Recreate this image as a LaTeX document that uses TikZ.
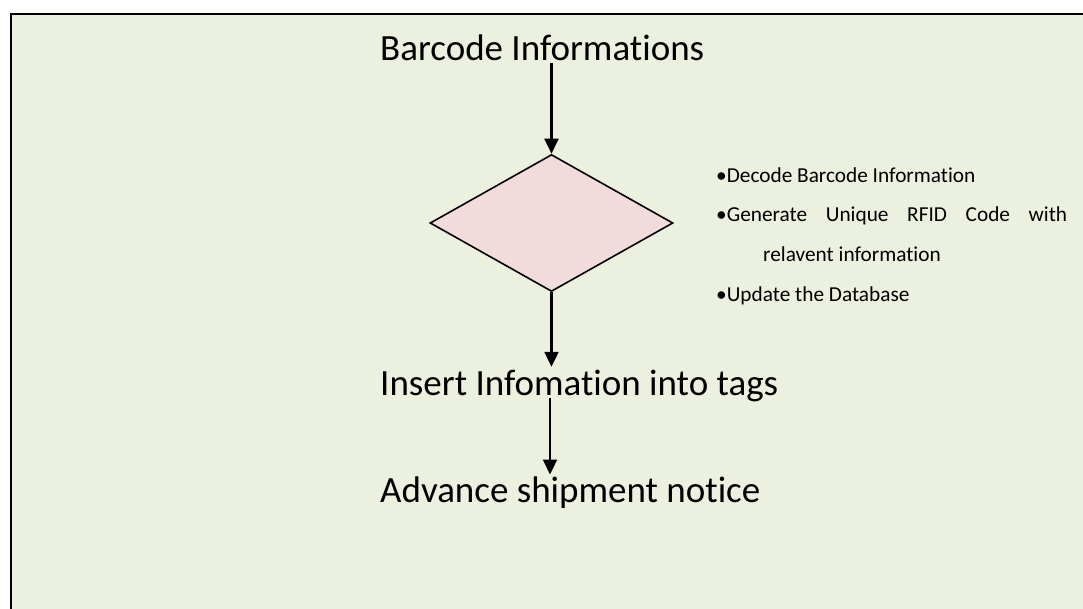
\documentclass[tikz,border=0pt]{standalone}
\usepackage{fontspec}
\setmainfont{Carlito}[Ligatures=NoCommon]
\usetikzlibrary{shapes.geometric}
\usetikzlibrary{arrows.meta}
\usetikzlibrary{positioning}

\definecolor{panelgreen}{RGB}{235,241,222}
\definecolor{decisionpink}{RGB}{242,220,219}

\begin{document}
\begin{tikzpicture}[x=1pt, y=-1pt, node distance=39.7pt, inner sep=0pt,
  flow/.style={anchor=base west, font=\fontsize{37}{44}\selectfont, text height=28pt, text depth=3pt},
  note/.style={anchor=base west, font=\fontsize{21.3}{25}\selectfont},
  decision/.style={diamond, draw, line width=1.6pt, fill=decisionpink, minimum width=243pt, minimum height=137pt},
  flowarrow/.style={-{Triangle[length=15pt,width=14pt]}, line width=2.2pt}]

\useasboundingbox (0,0) rectangle (1083,608);
\draw [line width=2.2pt, fill=panelgreen] (11,14) rectangle (1100,625);

% main column
\node [flow] (barcode) at (380,60) {Barcode Informations};
\node [decision] (check) at (551.5,223) {};
\node [flow] (insert) at (380,395) {Insert Infomation into tags};
\node [flow] (asn) at (380,502.7) {Advance shipment notice};

% what happens in the decision step
\node [note] (decode) at (716,182) {\textbullet Decode Barcode Information};
\node [note, below=of decode.base west, anchor=base west] (generate) {\makebox[351pt][s]{\textbullet Generate Unique RFID Code with}};
\node [note, below right=39.7pt and 47pt of generate.base west, anchor=base west] (relevant) {relavent information};
\node [note, below left=39.7pt and 47pt of relevant.base west, anchor=base west] (update) {\textbullet Update the Database};

\draw [flowarrow] (check.north |- barcode.south) -- (check.north);
\draw [flowarrow] (check.south) -- (check.south |- insert.north);
\draw [flowarrow] ([xshift=-1.5pt]check.south |- insert.south) -- ([xshift=-1.5pt]check.south |- asn.north);

\end{tikzpicture}
\end{document}
